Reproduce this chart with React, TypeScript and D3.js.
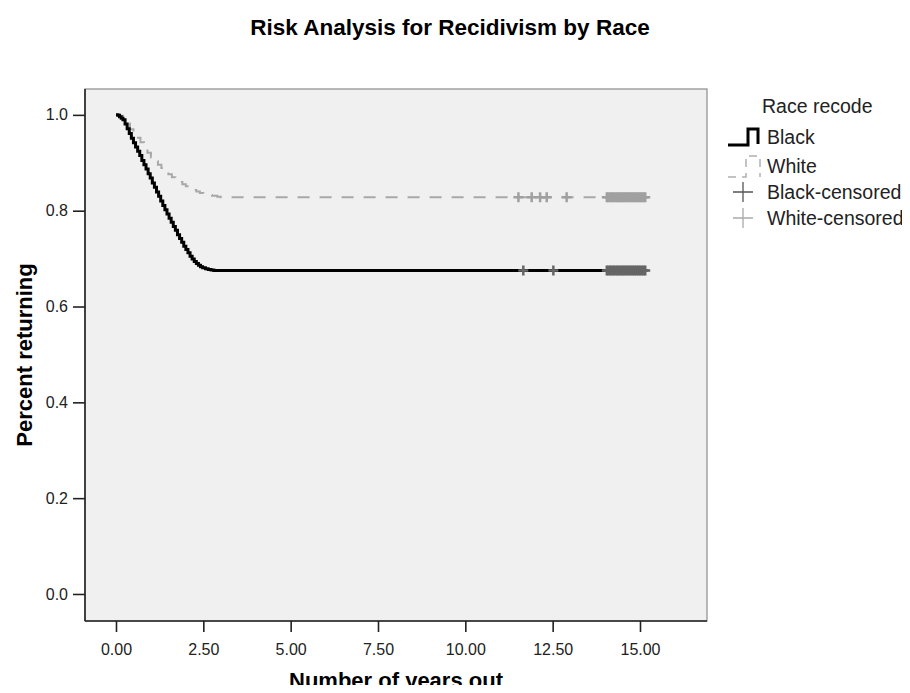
import React, { useRef, useEffect } from "react";
import { select, scaleLinear, line, curveStepAfter, axisLeft, axisBottom } from "d3";

// Kaplan-Meier style estimates: [years out, proportion]
const blackCurve: [number, number][] = [
  [0.0, 1.0], [0.05, 0.999], [0.1, 0.996], [0.15, 0.993], [0.2, 0.99],
  [0.26, 0.981], [0.32, 0.971], [0.38, 0.961], [0.44, 0.951], [0.5, 0.942],
  [0.56, 0.933], [0.62, 0.924], [0.68, 0.915], [0.74, 0.905], [0.8, 0.896],
  [0.86, 0.887], [0.92, 0.877], [0.98, 0.868], [1.04, 0.858], [1.1, 0.849],
  [1.16, 0.839], [1.22, 0.83], [1.28, 0.82], [1.34, 0.811], [1.4, 0.802],
  [1.46, 0.793], [1.52, 0.784], [1.58, 0.776], [1.64, 0.767], [1.7, 0.759],
  [1.76, 0.75], [1.82, 0.742], [1.88, 0.734], [1.94, 0.726], [2.0, 0.719],
  [2.06, 0.712], [2.12, 0.705], [2.18, 0.699], [2.24, 0.694], [2.3, 0.69],
  [2.36, 0.686], [2.42, 0.683], [2.48, 0.681], [2.56, 0.679], [2.64, 0.677],
  [2.72, 0.676], [2.8, 0.675], [15.15, 0.675],
];

const whiteCurve: [number, number][] = [
  [0.0, 1.0], [0.1, 0.998], [0.2, 0.992], [0.3, 0.982], [0.4, 0.97],
  [0.5, 0.96], [0.6, 0.952], [0.7, 0.943], [0.8, 0.934], [0.9, 0.921],
  [1.0, 0.911], [1.1, 0.903], [1.2, 0.896], [1.3, 0.889], [1.4, 0.882],
  [1.5, 0.876], [1.6, 0.87], [1.7, 0.865], [1.8, 0.86], [1.9, 0.855],
  [2.0, 0.851], [2.1, 0.847], [2.2, 0.843], [2.3, 0.84], [2.4, 0.837],
  [2.5, 0.835], [2.6, 0.833], [2.75, 0.831], [2.9, 0.829], [3.0, 0.828],
  [15.15, 0.828],
];

// censored cases (years out); the late ones are so dense they merge into a block
const lateCensored = [
  14.05, 14.1, 14.15, 14.2, 14.25, 14.3, 14.35, 14.4, 14.45, 14.5, 14.55, 14.6,
  14.65, 14.7, 14.75, 14.8, 14.85, 14.9, 14.95, 15.0, 15.05, 15.1, 15.15,
];
const blackCensored = [11.66, 12.52, ...lateCensored];
const whiteCensored = [11.52, 11.9, 12.14, 12.33, 12.9, ...lateCensored];

const xTicks = [0, 2.5, 5, 7.5, 10, 12.5, 15];
const yTicks = [0, 0.2, 0.4, 0.6, 0.8, 1.0];

const legendItems = ["Black", "White", "Black-censored", "White-censored"];

const FONT = "'Liberation Sans', Arial, sans-serif";

function SurvivalChart() {
  const svgRef = useRef<SVGSVGElement>(null);

  useEffect(() => {
    const svg = select(svgRef.current);
    svg.selectAll("*").remove();

    const left = 85, right = 707, top = 89, bottom = 621;

    // tick 0.00 sits at 116px, 15.00 at 640px
    const x = scaleLinear().domain([-0.887, 16.918]).range([left, right]);
    const y = scaleLinear().domain([-0.0564, 1.054]).range([bottom, top]);

    svg.append("text")
      .attr("x", 450).attr("y", 35)
      .attr("text-anchor", "middle")
      .attr("font-family", FONT).attr("font-weight", "bold").attr("font-size", 22.5)
      .text("Risk Analysis for Recidivism by Race");

    // plot background + frame
    svg.append("rect")
      .attr("x", left).attr("y", top)
      .attr("width", right - left).attr("height", bottom - top)
      .attr("fill", "#f0f0f0").attr("stroke", "#8c8c8c").attr("stroke-width", 1.2);

    const yAxis = svg.append("g")
      .attr("transform", `translate(${left},0)`)
      .call(axisLeft(y).tickValues(yTicks).tickFormat((d: any) => (+d).toFixed(1)).tickSize(12).tickSizeOuter(0));
    yAxis.select(".domain").attr("d", `M0,${top}V${bottom}`).attr("stroke", "#222").attr("stroke-width", 1.6);
    yAxis.selectAll(".tick line").attr("stroke", "#222").attr("stroke-width", 1.6);
    yAxis.selectAll("text").attr("font-family", FONT).attr("font-size", 16).attr("fill", "#222").attr("x", -17);

    const xAxis = svg.append("g")
      .attr("transform", `translate(0,${bottom})`)
      .call(axisBottom(x).tickValues(xTicks).tickFormat((d: any) => (+d).toFixed(2)).tickSize(11).tickSizeOuter(0));
    xAxis.select(".domain").attr("d", `M${left},0H${right}`).attr("stroke", "#222").attr("stroke-width", 1.6);
    xAxis.selectAll(".tick line").attr("stroke", "#222").attr("stroke-width", 1.6);
    xAxis.selectAll("text").attr("font-family", FONT).attr("font-size", 16).attr("fill", "#222")
      .attr("y", 34).attr("dy", 0);

    svg.append("text")
      .attr("x", (left + right) / 2).attr("y", 688)
      .attr("text-anchor", "middle")
      .attr("font-family", FONT).attr("font-weight", "bold").attr("font-size", 22)
      .text("Number of years out");

    svg.append("text")
      .attr("transform", `translate(32,${(top + bottom) / 2}) rotate(-90)`)
      .attr("text-anchor", "middle")
      .attr("font-family", FONT).attr("font-weight", "bold").attr("font-size", 22)
      .text("Percent returning");

    const stepLine = line<[number, number]>()
      .x(d => x(d[0])).y(d => y(d[1]))
      .curve(curveStepAfter);

    svg.append("path")
      .datum(whiteCurve)
      .attr("d", stepLine)
      .attr("fill", "none").attr("stroke", "#a8a8a8")
      .attr("stroke-width", 2).attr("stroke-dasharray", "12,10");

    svg.append("path")
      .datum(blackCurve)
      .attr("d", stepLine)
      .attr("fill", "none").attr("stroke", "#000")
      .attr("stroke-width", 3);

    const plus = (g: any, times: number[], level: number, color: string) => {
      g.selectAll(null)
        .data(times)
        .join("path")
        .attr("d", (t: number) => {
          const cx = x(t), cy = y(level);
          return `M${cx - 5},${cy}H${cx + 5}M${cx},${cy - 5}V${cy + 5}`;
        })
        .attr("stroke", color).attr("stroke-width", 2.5).attr("fill", "none");
    };
    plus(svg.append("g"), whiteCensored, 0.828, "#a0a0a0");
    plus(svg.append("g"), blackCensored, 0.675, "#666");

    // legend
    const lg = svg.append("g").attr("font-family", FONT).attr("font-size", 19.5).attr("fill", "#222");
    lg.append("text").attr("x", 762).attr("y", 113).text("Race recode");
    const rows = [144, 173, 199, 225];
    legendItems.forEach((name, i) => {
      lg.append("text").attr("x", 767).attr("y", rows[i]).text(name);
    });
    lg.append("path")
      .attr("d", "M728,145H748V129H758V144")
      .attr("fill", "none").attr("stroke", "#000").attr("stroke-width", 3);
    lg.append("path")
      .attr("d", "M728,177H746V156H760V177")
      .attr("fill", "none").attr("stroke", "#b0b0b0").attr("stroke-width", 1.5)
      .attr("stroke-dasharray", "8,6");
    lg.append("path")
      .attr("d", "M733,192H753M743,182V202")
      .attr("stroke", "#555").attr("stroke-width", 1.3);
    lg.append("path")
      .attr("d", "M733,218H753M743,208V228")
      .attr("stroke", "#aaa").attr("stroke-width", 1.3);
  }, []);

  return <svg ref={svgRef} width={910} height={693} style={{ display: "block", background: "#fff" }}></svg>;
}

export default function App() {
  return (
    <div style={{ margin: -8 }}>
      <SurvivalChart />
    </div>
  );
}
